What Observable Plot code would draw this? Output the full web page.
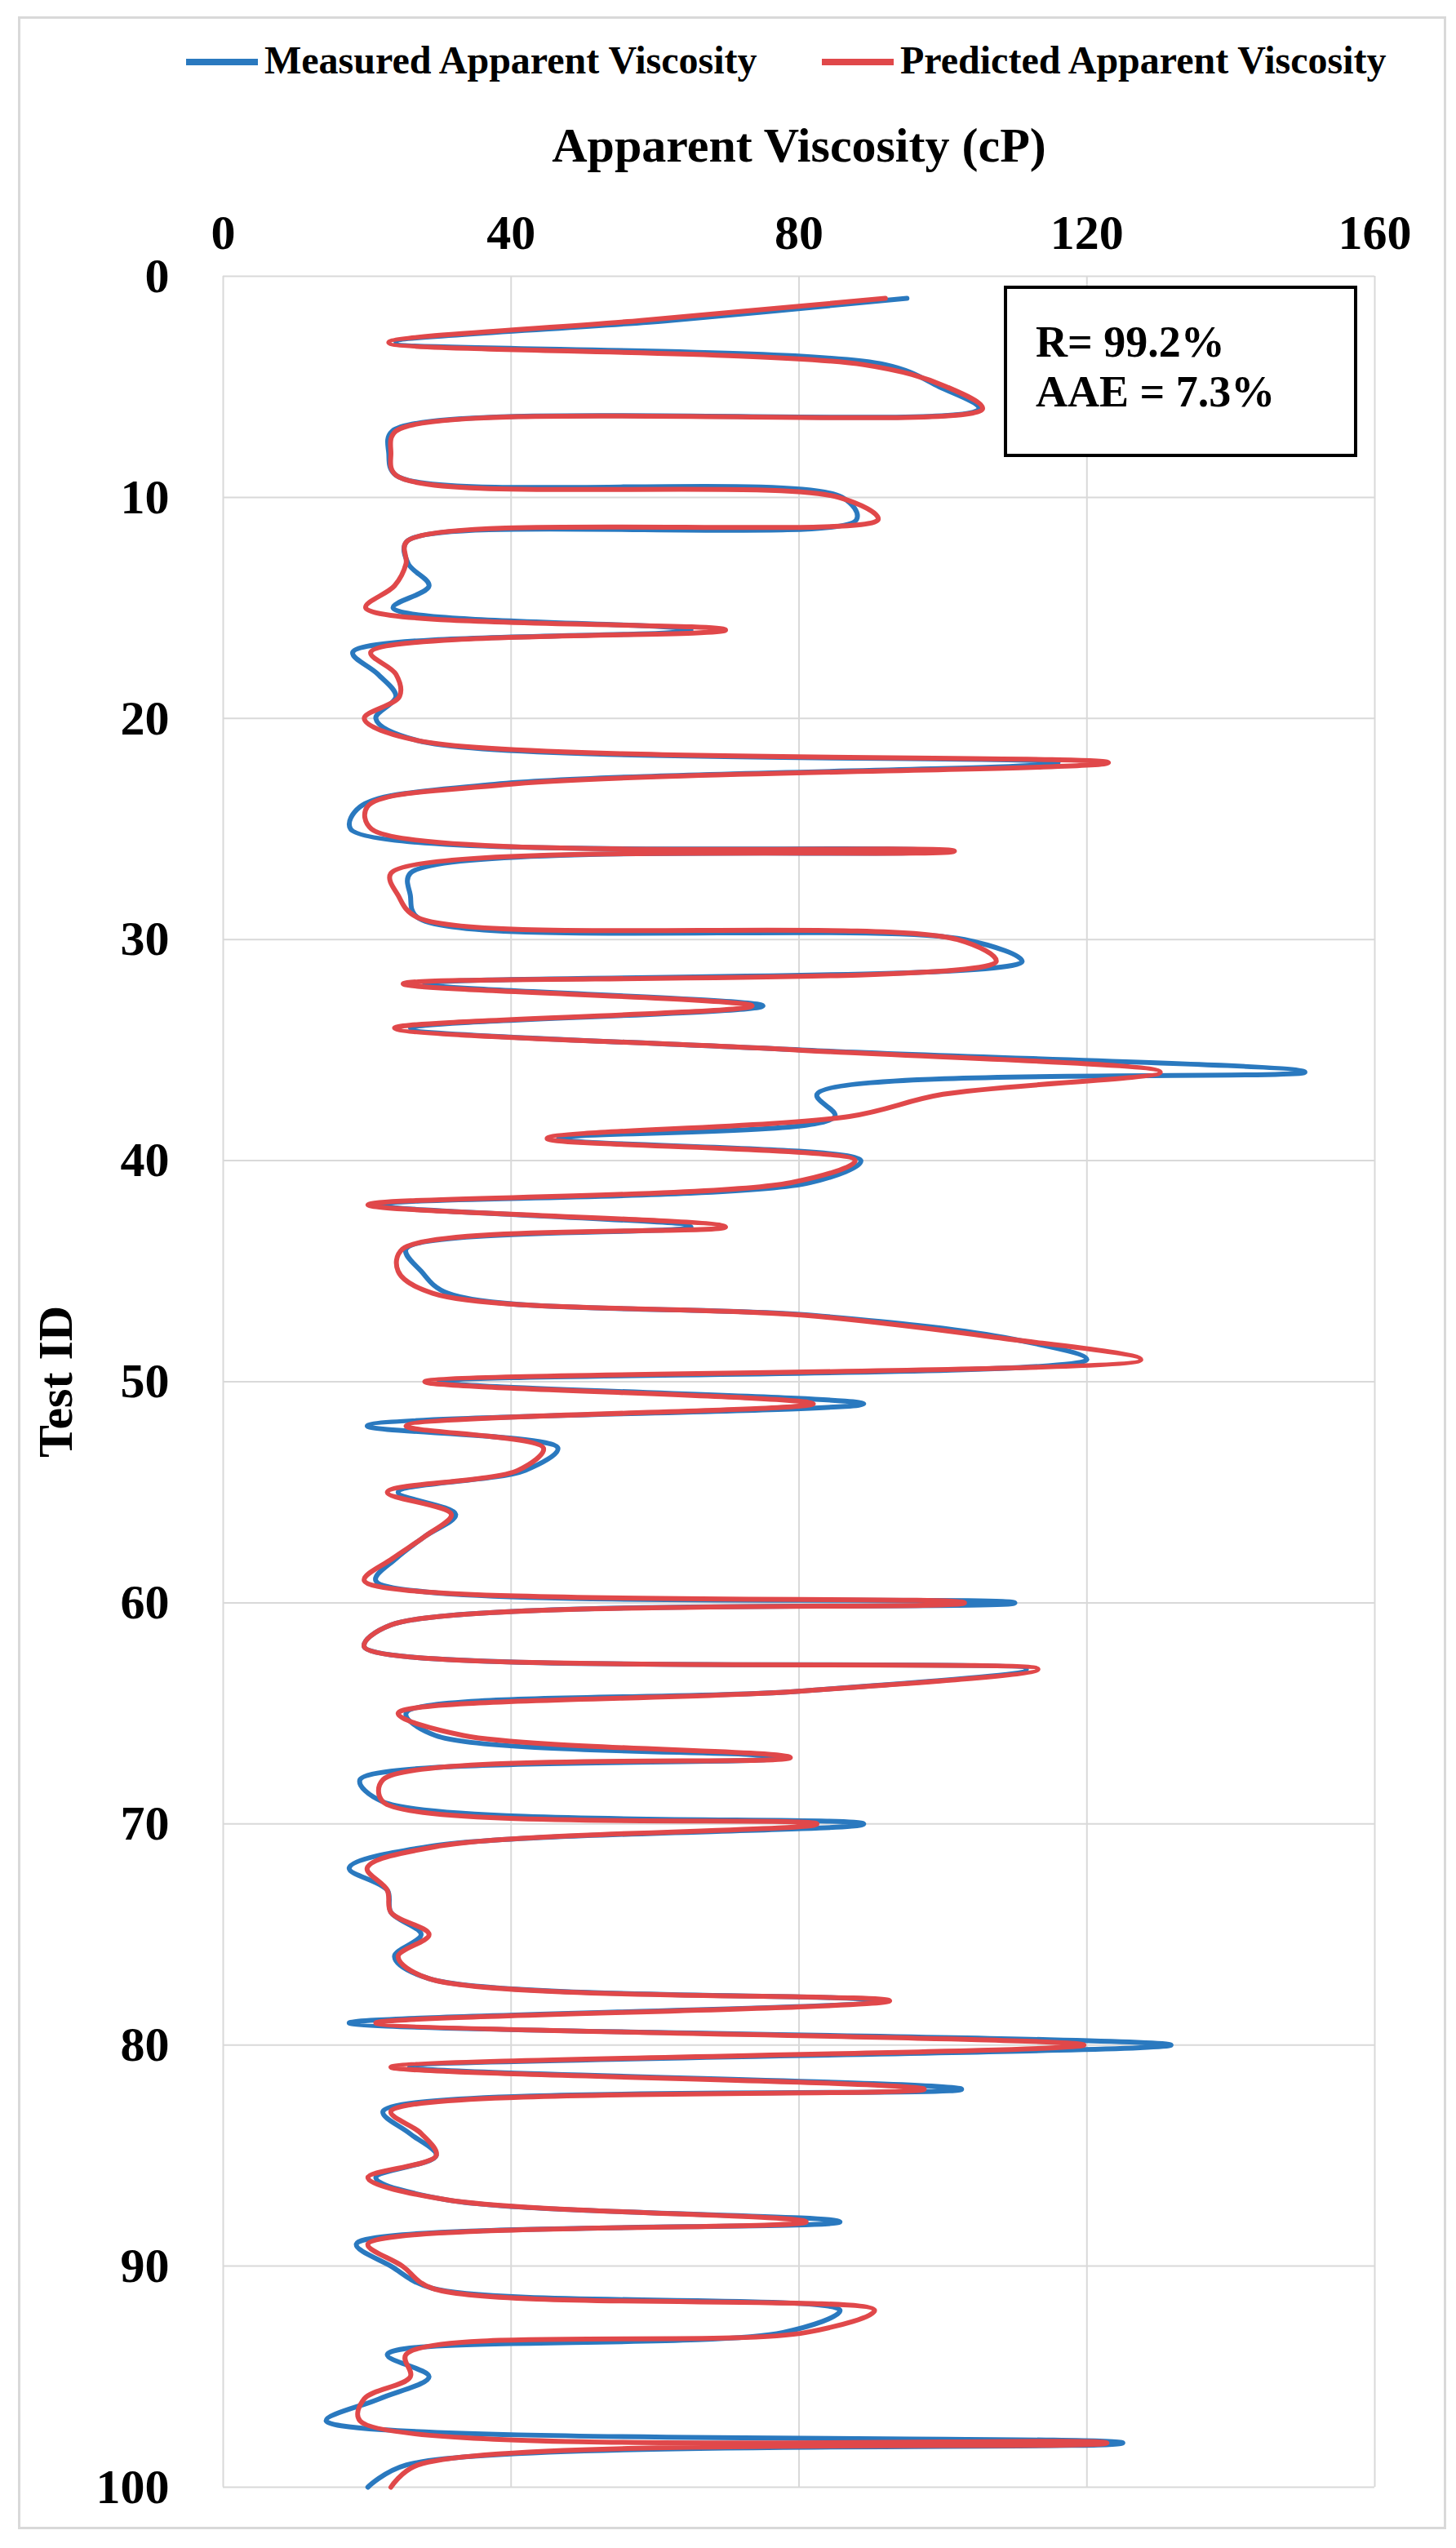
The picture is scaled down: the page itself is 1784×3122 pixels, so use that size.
<!DOCTYPE html>
<html>
<head>
<meta charset="utf-8">
<script src="https://cdn.jsdelivr.net/npm/d3@7"></script>
<script src="https://cdn.jsdelivr.net/npm/@observablehq/plot@0.6"></script>
<style>
  html, body { margin: 0; padding: 0; background: #fff; }
  #wrap { position: relative; width: 1784px; height: 3122px; font-family: "Liberation Serif", "Times New Roman", serif; font-weight: bold; color: #000; }
  #frame { position: absolute; left: 22px; top: 20px; width: 1744px; height: 3073px; border: 3px solid #d9d9d9; pointer-events: none; }
  #legend { position: relative; height: 120px; }
  .sw { position: absolute; height: 8px; top: 72px; }
  .lt { position: absolute; top: 50px; font-size: 48px; line-height: 1; white-space: nowrap; }
  #chart { position: relative; }
  #chart svg { display: block; }
  #stats { position: absolute; left: 1230px; top: 350px; width: 425px; height: 202px; border: 4px solid #000; background: #fff; }
  .st { position: absolute; left: 35px; font-size: 54px; line-height: 1; white-space: nowrap; }
</style>
</head>
<body>
<div id="wrap">
  <div id="frame"></div>
  <div id="legend"></div>
  <div id="chart"></div>
  <div id="stats"></div>
</div>
<script>
// ---- data ----
const seriesNames = ["Measured Apparent Viscosity", "Predicted Apparent Viscosity"];
const seriesColors = ["#2a79bf", "#e0484a"];
const ids = d3.range(1, 101);
const measured = [
  95, 62, 24, 92, 99.5, 105, 23.5, 23, 24, 86,
  88, 25.5, 25.7, 28.6, 23.6, 65, 18, 21.5, 24, 21.2,
  27, 116, 37, 19, 17.7, 98, 26, 26, 27, 103,
  111, 28, 75, 26, 81, 150.3, 82.5, 85, 46.6, 88.6,
  81.5, 21.7, 65, 25.4, 27.5, 31.2, 82, 108.5, 120, 30,
  89, 20, 46.5, 42, 24.3, 32.3, 28, 24, 21.2, 110,
  23.3, 19.6, 111.6, 80, 25.4, 29.5, 77.2, 19, 22.2, 89,
  29, 17.5, 22.8, 23.3, 27.5, 23.8, 28.6, 90.5, 17.5, 131.7,
  25.9, 102.6, 22.2, 25.9, 29.6, 21.2, 31, 85.7, 18.5, 23.3,
  29, 85.7, 77.8, 22.8, 28.6, 21.7, 14.3, 125, 25.4, 20.1
];
const predicted = [
  92, 58, 23, 89, 100.5, 105.5, 24, 23.3, 24, 85.5,
  91, 25.5, 25.4, 23.8, 19.8, 69.8, 20.5, 24, 24.5, 19.6,
  27, 123, 39, 20, 20.6, 101.6, 23.3, 24.3, 27, 102,
  107.4, 25, 73.5, 23.8, 80, 130.2, 100, 87, 45, 87.8,
  78.8, 20.1, 69.8, 24.9, 24.3, 29.1, 81, 107.4, 127.5, 28,
  82, 25.4, 44.5, 41, 22.8, 31.7, 28, 23.5, 19.6, 103,
  23.3, 19.6, 113.2, 80, 24.3, 33.4, 78.8, 22.2, 22.2, 82.5,
  30, 20, 22.8, 23.3, 28.6, 24.3, 28.6, 92.6, 21.2, 119.6,
  23.3, 97.4, 23.3, 27.5, 29.6, 20.1, 31, 81, 20.1, 24.9,
  29, 90.5, 81, 25.4, 26, 19.6, 19, 122.8, 27, 23.3
];
const xTicks = [0, 40, 80, 120, 160];
const yTicks = [0, 10, 20, 30, 40, 50, 60, 70, 80, 90, 100];
const xTitle = "Apparent Viscosity (cP)";
const yTitle = "Test ID";
const statLines = ["R= 99.2%", "AAE = 7.3%"];

// ---- tables ----
const mData = ids.map((id, i) => ({id, v: measured[i]}));
const pData = ids.map((id, i) => ({id, v: predicted[i]}));

// ---- legend ----
const legend = document.getElementById("legend");
const legPos = [{sw: 228, tx: 324}, {sw: 1007, tx: 1103}];
seriesNames.forEach((name, i) => {
  const s = document.createElement("div");
  s.className = "sw";
  s.style.left = legPos[i].sw + "px";
  s.style.width = "88px";
  s.style.background = seriesColors[i];
  legend.appendChild(s);
  const t = document.createElement("div");
  t.className = "lt";
  t.style.left = legPos[i].tx + "px";
  t.textContent = name;
  legend.appendChild(t);
});

// ---- chart ----
const chart = Plot.plot({
  width: 1784,
  height: 3002,
  marginLeft: 273,
  marginRight: 100,
  marginTop: 218,
  marginBottom: 75,
  style: {
    fontFamily: "'Liberation Serif', 'Times New Roman', serif",
    fontWeight: "bold",
    fontSize: "60px",
    color: "#000",
    background: "transparent",
    overflow: "visible"
  },
  x: {domain: [0, 160]},
  y: {domain: [0, 100], reverse: true},
  marks: [
    Plot.gridX(xTicks, {stroke: "#d9d9d9", strokeOpacity: 1, strokeWidth: 2}),
    Plot.gridY(yTicks, {stroke: "#d9d9d9", strokeOpacity: 1, strokeWidth: 2}),
    Plot.line(mData, {x: "v", y: "id", curve: "catmull-rom", stroke: seriesColors[0], strokeWidth: 6}),
    Plot.line(pData, {x: "v", y: "id", curve: "catmull-rom", stroke: seriesColors[1], strokeWidth: 6}),
    Plot.axisX(xTicks, {
      anchor: "top", tickSize: 0, tickPadding: 34, fontSize: 60,
      label: xTitle, labelAnchor: "center", labelOffset: 183, labelArrow: "none"
    }),
    Plot.axisY(yTicks, {
      anchor: "left", tickSize: 0, tickPadding: 66, fontSize: 60,
      label: yTitle, labelAnchor: "center", labelOffset: 228, labelArrow: "none"
    })
  ]
});
document.getElementById("chart").appendChild(chart);

// ---- stats box ----
const stats = document.getElementById("stats");
statLines.forEach((s, i) => {
  const d = document.createElement("div");
  d.className = "st";
  d.style.top = (38 + i * 61) + "px";
  d.textContent = s;
  stats.appendChild(d);
});
</script>
</body>
</html>
